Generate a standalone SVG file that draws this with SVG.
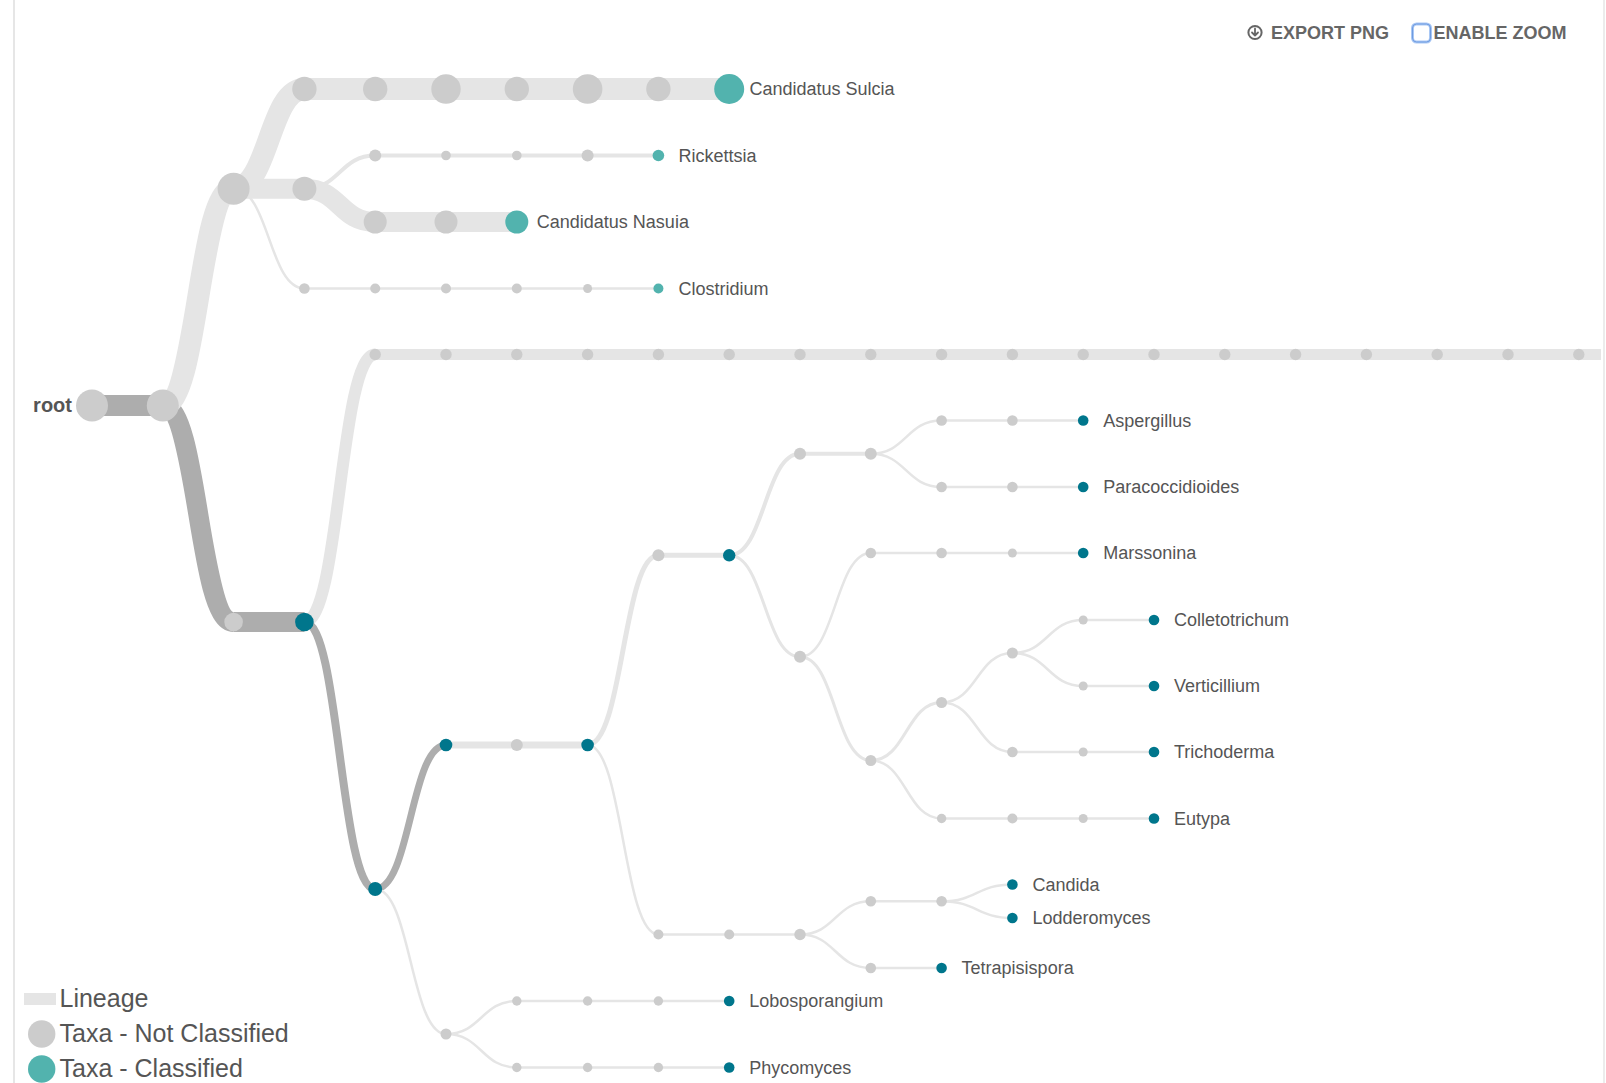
<svg xmlns="http://www.w3.org/2000/svg" width="1606" height="1083" viewBox="0 0 1606 1083">
<style>
.lk{fill:none;stroke:#e5e5e5}
.dk{fill:none;stroke:#adadad}
.g{fill:#cccccc}
.t1{fill:#52b3ae}
.t2{fill:#00768c}
.lb{font-family:"Liberation Sans",Arial,Helvetica,sans-serif;font-size:18px;fill:#555555}
.rt{font-family:"Liberation Sans",Arial,Helvetica,sans-serif;font-size:20px;font-weight:bold;fill:#555555}
.btn{font-family:"Liberation Sans",Arial,Helvetica,sans-serif;font-size:18px;font-weight:bold;fill:#666666}
.lg{font-family:"Liberation Sans",Arial,Helvetica,sans-serif;font-size:25px;fill:#555555}
</style>
<rect x="0" y="0" width="1606" height="1083" fill="#ffffff"/>
<line x1="14" y1="0" x2="14" y2="1083" stroke="#e6e6e6" stroke-width="2"/>
<line x1="1604" y1="0" x2="1604" y2="1083" stroke="#e6e6e6" stroke-width="1.5"/>

<g id="connectors">
<path class="dk" stroke-width="21" d="M92,405.5H162.8"/>
<path class="dk" stroke-width="20" d="M162.8,405.5C198.2,405.5 198.2,622 233.6,622"/>
<path class="dk" stroke-width="20" d="M233.6,622H304.4"/>
<path class="lk" stroke-width="22" d="M162.8,405.5C198.2,405.5 198.2,188.8 233.6,188.8"/>
<path class="lk" stroke-width="22" d="M233.6,188.8C269,188.8 269,89 304.4,89"/>
<path class="lk" stroke-width="22" d="M304.4,89H729.2"/>
<path class="lk" stroke-width="20" d="M233.6,188.8H304.4"/>
<path class="lk" stroke-width="4" d="M304.4,188.8C339.8,188.8 339.8,155.5 375.2,155.5H658.4"/>
<path class="lk" stroke-width="20" d="M304.4,188.8C339.8,188.8 339.8,222 375.2,222H516.8"/>
<path class="lk" stroke-width="2.5" d="M233.6,188.8C269,188.8 269,288.5 304.4,288.5H658.4"/>
<path class="lk" stroke-width="12" d="M304.4,622C339.8,622 339.8,354.5 375.2,354.5"/>
<path class="lk" stroke-width="11" d="M375.2,354.5H1601"/>
<path class="dk" stroke-width="8" d="M304.4,622C339.8,622 339.8,889 375.2,889"/>
<path class="dk" stroke-width="7" d="M375.2,889C410.6,889 410.6,745 446,745"/>
<path class="lk" stroke-width="7" d="M446,745H587.6"/>
<path class="lk" stroke-width="5" d="M587.6,745C623,745 623,555.3 658.4,555.3H729.2"/>
<path class="lk" stroke-width="4" d="M729.2,555.3C764.6,555.3 764.6,453.8 800,453.8H870.8"/>
<path class="lk" stroke-width="2.5" d="M870.8,453.8C906.2,453.8 906.2,420.5 941.6,420.5H1083.2"/>
<path class="lk" stroke-width="2.5" d="M870.8,453.8C906.2,453.8 906.2,487 941.6,487H1083.2"/>
<path class="lk" stroke-width="3" d="M729.2,555.3C764.6,555.3 764.6,656.8 800,656.8"/>
<path class="lk" stroke-width="2.5" d="M800,656.8C835.4,656.8 835.4,553 870.8,553H1083.2"/>
<path class="lk" stroke-width="3" d="M800,656.8C835.4,656.8 835.4,760.5 870.8,760.5"/>
<path class="lk" stroke-width="3" d="M870.8,760.5C906.2,760.5 906.2,702.5 941.6,702.5"/>
<path class="lk" stroke-width="2.5" d="M870.8,760.5C906.2,760.5 906.2,818.5 941.6,818.5H1154"/>
<path class="lk" stroke-width="2.5" d="M941.6,702.5C977,702.5 977,653 1012.4,653"/>
<path class="lk" stroke-width="2.5" d="M941.6,702.5C977,702.5 977,752 1012.4,752H1154"/>
<path class="lk" stroke-width="2.5" d="M1012.4,653C1047.8,653 1047.8,620 1083.2,620H1154"/>
<path class="lk" stroke-width="2.5" d="M1012.4,653C1047.8,653 1047.8,686 1083.2,686H1154"/>
<path class="lk" stroke-width="2.5" d="M587.6,745C623,745 623,934.5 658.4,934.5H800"/>
<path class="lk" stroke-width="2.5" d="M800,934.5C835.4,934.5 835.4,901.3 870.8,901.3H941.6"/>
<path class="lk" stroke-width="2.5" d="M941.6,901.3C977,901.3 977,884.5 1012.4,884.5"/>
<path class="lk" stroke-width="2.5" d="M941.6,901.3C977,901.3 977,918 1012.4,918"/>
<path class="lk" stroke-width="2.5" d="M800,934.5C835.4,934.5 835.4,968 870.8,968H941.6"/>
<path class="lk" stroke-width="2.5" d="M375.2,889C410.6,889 410.6,1034 446,1034"/>
<path class="lk" stroke-width="2.5" d="M446,1034C481.4,1034 481.4,1001 516.8,1001H729.2"/>
<path class="lk" stroke-width="2.5" d="M446,1034C481.4,1034 481.4,1067.5 516.8,1067.5H729.2"/>
</g>

<g id="n-root"><circle class="g" cx="92" cy="405.5" r="16"/><text class="rt" x="72" y="412" text-anchor="end">root</text></g>
<g id="n-1"><circle class="g" cx="162.8" cy="405.5" r="16"/></g>
<g id="n-A"><circle class="g" cx="233.6" cy="188.8" r="16"/></g>
<g id="n-B"><circle class="g" cx="304.4" cy="188.8" r="12"/></g>
<g id="n-s1"><circle class="g" cx="304.4" cy="89" r="12.2"/></g>
<g id="n-s2"><circle class="g" cx="375.2" cy="89" r="12.2"/></g>
<g id="n-s3"><circle class="g" cx="446" cy="89" r="14.7"/></g>
<g id="n-s4"><circle class="g" cx="516.8" cy="89" r="12.2"/></g>
<g id="n-s5"><circle class="g" cx="587.6" cy="89" r="14.8"/></g>
<g id="n-s6"><circle class="g" cx="658.4" cy="89" r="12.2"/></g>
<g id="n-sulcia"><circle class="t1" cx="729.2" cy="89" r="15"/><text class="lb" x="749.5" y="95.3">Candidatus Sulcia</text></g>
<g id="n-r1"><circle class="g" cx="375.2" cy="155.5" r="6"/></g>
<g id="n-r2"><circle class="g" cx="446" cy="155.5" r="4.8"/></g>
<g id="n-r3"><circle class="g" cx="516.8" cy="155.5" r="4.8"/></g>
<g id="n-r4"><circle class="g" cx="587.6" cy="155.5" r="6"/></g>
<g id="n-rickettsia"><circle class="t1" cx="658.4" cy="155.5" r="5.8"/><text class="lb" x="678.4" y="161.8">Rickettsia</text></g>
<g id="n-na1"><circle class="g" cx="375.2" cy="222" r="11.5"/></g>
<g id="n-na2"><circle class="g" cx="446" cy="222" r="11.5"/></g>
<g id="n-nasuia"><circle class="t1" cx="516.8" cy="222" r="11.5"/><text class="lb" x="536.8" y="228.3">Candidatus Nasuia</text></g>
<g id="n-c1"><circle class="g" cx="304.4" cy="288.5" r="5.3"/></g>
<g id="n-c2"><circle class="g" cx="375.2" cy="288.5" r="5"/></g>
<g id="n-c3"><circle class="g" cx="446" cy="288.5" r="5"/></g>
<g id="n-c4"><circle class="g" cx="516.8" cy="288.5" r="5"/></g>
<g id="n-c5"><circle class="g" cx="587.6" cy="288.5" r="4.5"/></g>
<g id="n-clostridium"><circle class="t1" cx="658.4" cy="288.5" r="5"/><text class="lb" x="678.4" y="294.8">Clostridium</text></g>
<g id="n-long">
<circle class="g" cx="375.2" cy="354.5" r="5.7"/><circle class="g" cx="446" cy="354.5" r="5.7"/><circle class="g" cx="516.8" cy="354.5" r="5.7"/><circle class="g" cx="587.6" cy="354.5" r="5.7"/><circle class="g" cx="658.4" cy="354.5" r="5.7"/><circle class="g" cx="729.2" cy="354.5" r="5.7"/><circle class="g" cx="800" cy="354.5" r="5.7"/><circle class="g" cx="870.8" cy="354.5" r="5.7"/><circle class="g" cx="941.6" cy="354.5" r="5.7"/><circle class="g" cx="1012.4" cy="354.5" r="5.7"/><circle class="g" cx="1083.2" cy="354.5" r="5.7"/><circle class="g" cx="1154" cy="354.5" r="5.7"/><circle class="g" cx="1224.8" cy="354.5" r="5.7"/><circle class="g" cx="1295.6" cy="354.5" r="5.7"/><circle class="g" cx="1366.4" cy="354.5" r="5.7"/><circle class="g" cx="1437.2" cy="354.5" r="5.7"/><circle class="g" cx="1508" cy="354.5" r="5.7"/><circle class="g" cx="1578.8" cy="354.5" r="5.7"/>
</g>
<g id="n-C"><circle class="g" cx="233.6" cy="622" r="9.3"/></g>
<g id="n-D"><circle class="t2" cx="304.4" cy="622" r="9.3"/></g>
<g id="n-E"><circle class="t2" cx="375.2" cy="889" r="7"/></g>
<g id="n-F"><circle class="t2" cx="446" cy="745" r="6.3"/></g>
<g id="n-F2"><circle class="g" cx="516.8" cy="745" r="6"/></g>
<g id="n-H"><circle class="t2" cx="587.6" cy="745" r="6.3"/></g>
<g id="n-I"><circle class="g" cx="658.4" cy="555.3" r="6"/></g>
<g id="n-K"><circle class="t2" cx="729.2" cy="555.3" r="6.2"/></g>
<g id="n-L"><circle class="g" cx="800" cy="453.8" r="6"/></g>
<g id="n-L2"><circle class="g" cx="870.8" cy="453.8" r="6"/></g>
<g id="n-a1"><circle class="g" cx="941.6" cy="420.5" r="5.3"/></g>
<g id="n-a2"><circle class="g" cx="1012.4" cy="420.5" r="5.3"/></g>
<g id="n-aspergillus"><circle class="t2" cx="1083.2" cy="420.5" r="5.3"/><text class="lb" x="1103.2" y="426.8">Aspergillus</text></g>
<g id="n-p1"><circle class="g" cx="941.6" cy="487" r="5.3"/></g>
<g id="n-p2"><circle class="g" cx="1012.4" cy="487" r="5.3"/></g>
<g id="n-paracoccidioides"><circle class="t2" cx="1083.2" cy="487" r="5.3"/><text class="lb" x="1103.2" y="493.3">Paracoccidioides</text></g>
<g id="n-M"><circle class="g" cx="800" cy="656.8" r="6"/></g>
<g id="n-m1"><circle class="g" cx="870.8" cy="553" r="5.3"/></g>
<g id="n-m2"><circle class="g" cx="941.6" cy="553" r="5.3"/></g>
<g id="n-m3"><circle class="g" cx="1012.4" cy="553" r="4.5"/></g>
<g id="n-marssonina"><circle class="t2" cx="1083.2" cy="553" r="5.3"/><text class="lb" x="1103.2" y="559.3">Marssonina</text></g>
<g id="n-N"><circle class="g" cx="870.8" cy="760.5" r="5.5"/></g>
<g id="n-O"><circle class="g" cx="941.6" cy="702.5" r="5.5"/></g>
<g id="n-P"><circle class="g" cx="1012.4" cy="653" r="5.5"/></g>
<g id="n-co1"><circle class="g" cx="1083.2" cy="620" r="4.5"/></g>
<g id="n-colletotrichum"><circle class="t2" cx="1154" cy="620" r="5.3"/><text class="lb" x="1174" y="626.3">Colletotrichum</text></g>
<g id="n-v1"><circle class="g" cx="1083.2" cy="686" r="4.5"/></g>
<g id="n-verticillium"><circle class="t2" cx="1154" cy="686" r="5.3"/><text class="lb" x="1174" y="692.3">Verticillium</text></g>
<g id="n-tr1"><circle class="g" cx="1012.4" cy="752" r="5.3"/></g>
<g id="n-tr2"><circle class="g" cx="1083.2" cy="752" r="4.5"/></g>
<g id="n-trichoderma"><circle class="t2" cx="1154" cy="752" r="5.3"/><text class="lb" x="1174" y="758.3">Trichoderma</text></g>
<g id="n-e1"><circle class="g" cx="941.6" cy="818.5" r="4.7"/></g>
<g id="n-e2"><circle class="g" cx="1012.4" cy="818.5" r="5"/></g>
<g id="n-e3"><circle class="g" cx="1083.2" cy="818.5" r="4.5"/></g>
<g id="n-eutypa"><circle class="t2" cx="1154" cy="818.5" r="5.3"/><text class="lb" x="1174" y="824.8">Eutypa</text></g>
<g id="n-J"><circle class="g" cx="658.4" cy="934.5" r="5"/></g>
<g id="n-J2"><circle class="g" cx="729.2" cy="934.5" r="5"/></g>
<g id="n-Q"><circle class="g" cx="800" cy="934.5" r="5.7"/></g>
<g id="n-R"><circle class="g" cx="870.8" cy="901.3" r="5.3"/></g>
<g id="n-S"><circle class="g" cx="941.6" cy="901.3" r="5.3"/></g>
<g id="n-candida"><circle class="t2" cx="1012.4" cy="884.5" r="5.3"/><text class="lb" x="1032.4" y="890.8">Candida</text></g>
<g id="n-lodderomyces"><circle class="t2" cx="1012.4" cy="918" r="5.3"/><text class="lb" x="1032.4" y="924.3">Lodderomyces</text></g>
<g id="n-T"><circle class="g" cx="870.8" cy="968" r="5.3"/></g>
<g id="n-tetrapisispora"><circle class="t2" cx="941.6" cy="968" r="5.3"/><text class="lb" x="961.6" y="974.3">Tetrapisispora</text></g>
<g id="n-G"><circle class="g" cx="446" cy="1034" r="5.5"/></g>
<g id="n-lo1"><circle class="g" cx="516.8" cy="1001" r="4.7"/></g>
<g id="n-lo2"><circle class="g" cx="587.6" cy="1001" r="4.7"/></g>
<g id="n-lo3"><circle class="g" cx="658.4" cy="1001" r="4.7"/></g>
<g id="n-lobosporangium"><circle class="t2" cx="729.2" cy="1001" r="5.3"/><text class="lb" x="749.2" y="1007.3">Lobosporangium</text></g>
<g id="n-ph1"><circle class="g" cx="516.8" cy="1067.5" r="4.7"/></g>
<g id="n-ph2"><circle class="g" cx="587.6" cy="1067.5" r="4.7"/></g>
<g id="n-ph3"><circle class="g" cx="658.4" cy="1067.5" r="4.7"/></g>
<g id="n-phycomyces"><circle class="t2" cx="729.2" cy="1067.5" r="5.3"/><text class="lb" x="749.2" y="1073.8">Phycomyces</text></g>

<g id="legend">
<rect x="24" y="993" width="32" height="12" fill="#e5e5e5"/>
<text class="lg" x="59.5" y="1007">Lineage</text>
<circle class="g" cx="41.7" cy="1034" r="13.7"/>
<text class="lg" x="59.5" y="1042">Taxa - Not Classified</text>
<circle class="t1" cx="41.7" cy="1069" r="13.7"/>
<text class="lg" x="59.5" y="1077">Taxa - Classified</text>
</g>

<g id="export-button">
<circle cx="1255" cy="32.5" r="6.6" fill="none" stroke="#666666" stroke-width="2"/>
<path d="M1255,28.5V35.5M1252,32.5L1255,35.5L1258,32.5" fill="none" stroke="#666666" stroke-width="1.8" stroke-linecap="round" stroke-linejoin="round"/>
<text class="btn" x="1271" y="38.5">EXPORT PNG</text>
</g>
<g id="zoom-toggle">
<rect x="1412.5" y="24" width="18" height="18" rx="4" fill="#ffffff" stroke="#a9c8f5" stroke-width="3"/>
<rect x="1412.5" y="24" width="18" height="18" rx="4" fill="none" stroke="#6f9be0" stroke-width="1"/>
<text class="btn" x="1433.5" y="38.5">ENABLE ZOOM</text>
</g>
</svg>
